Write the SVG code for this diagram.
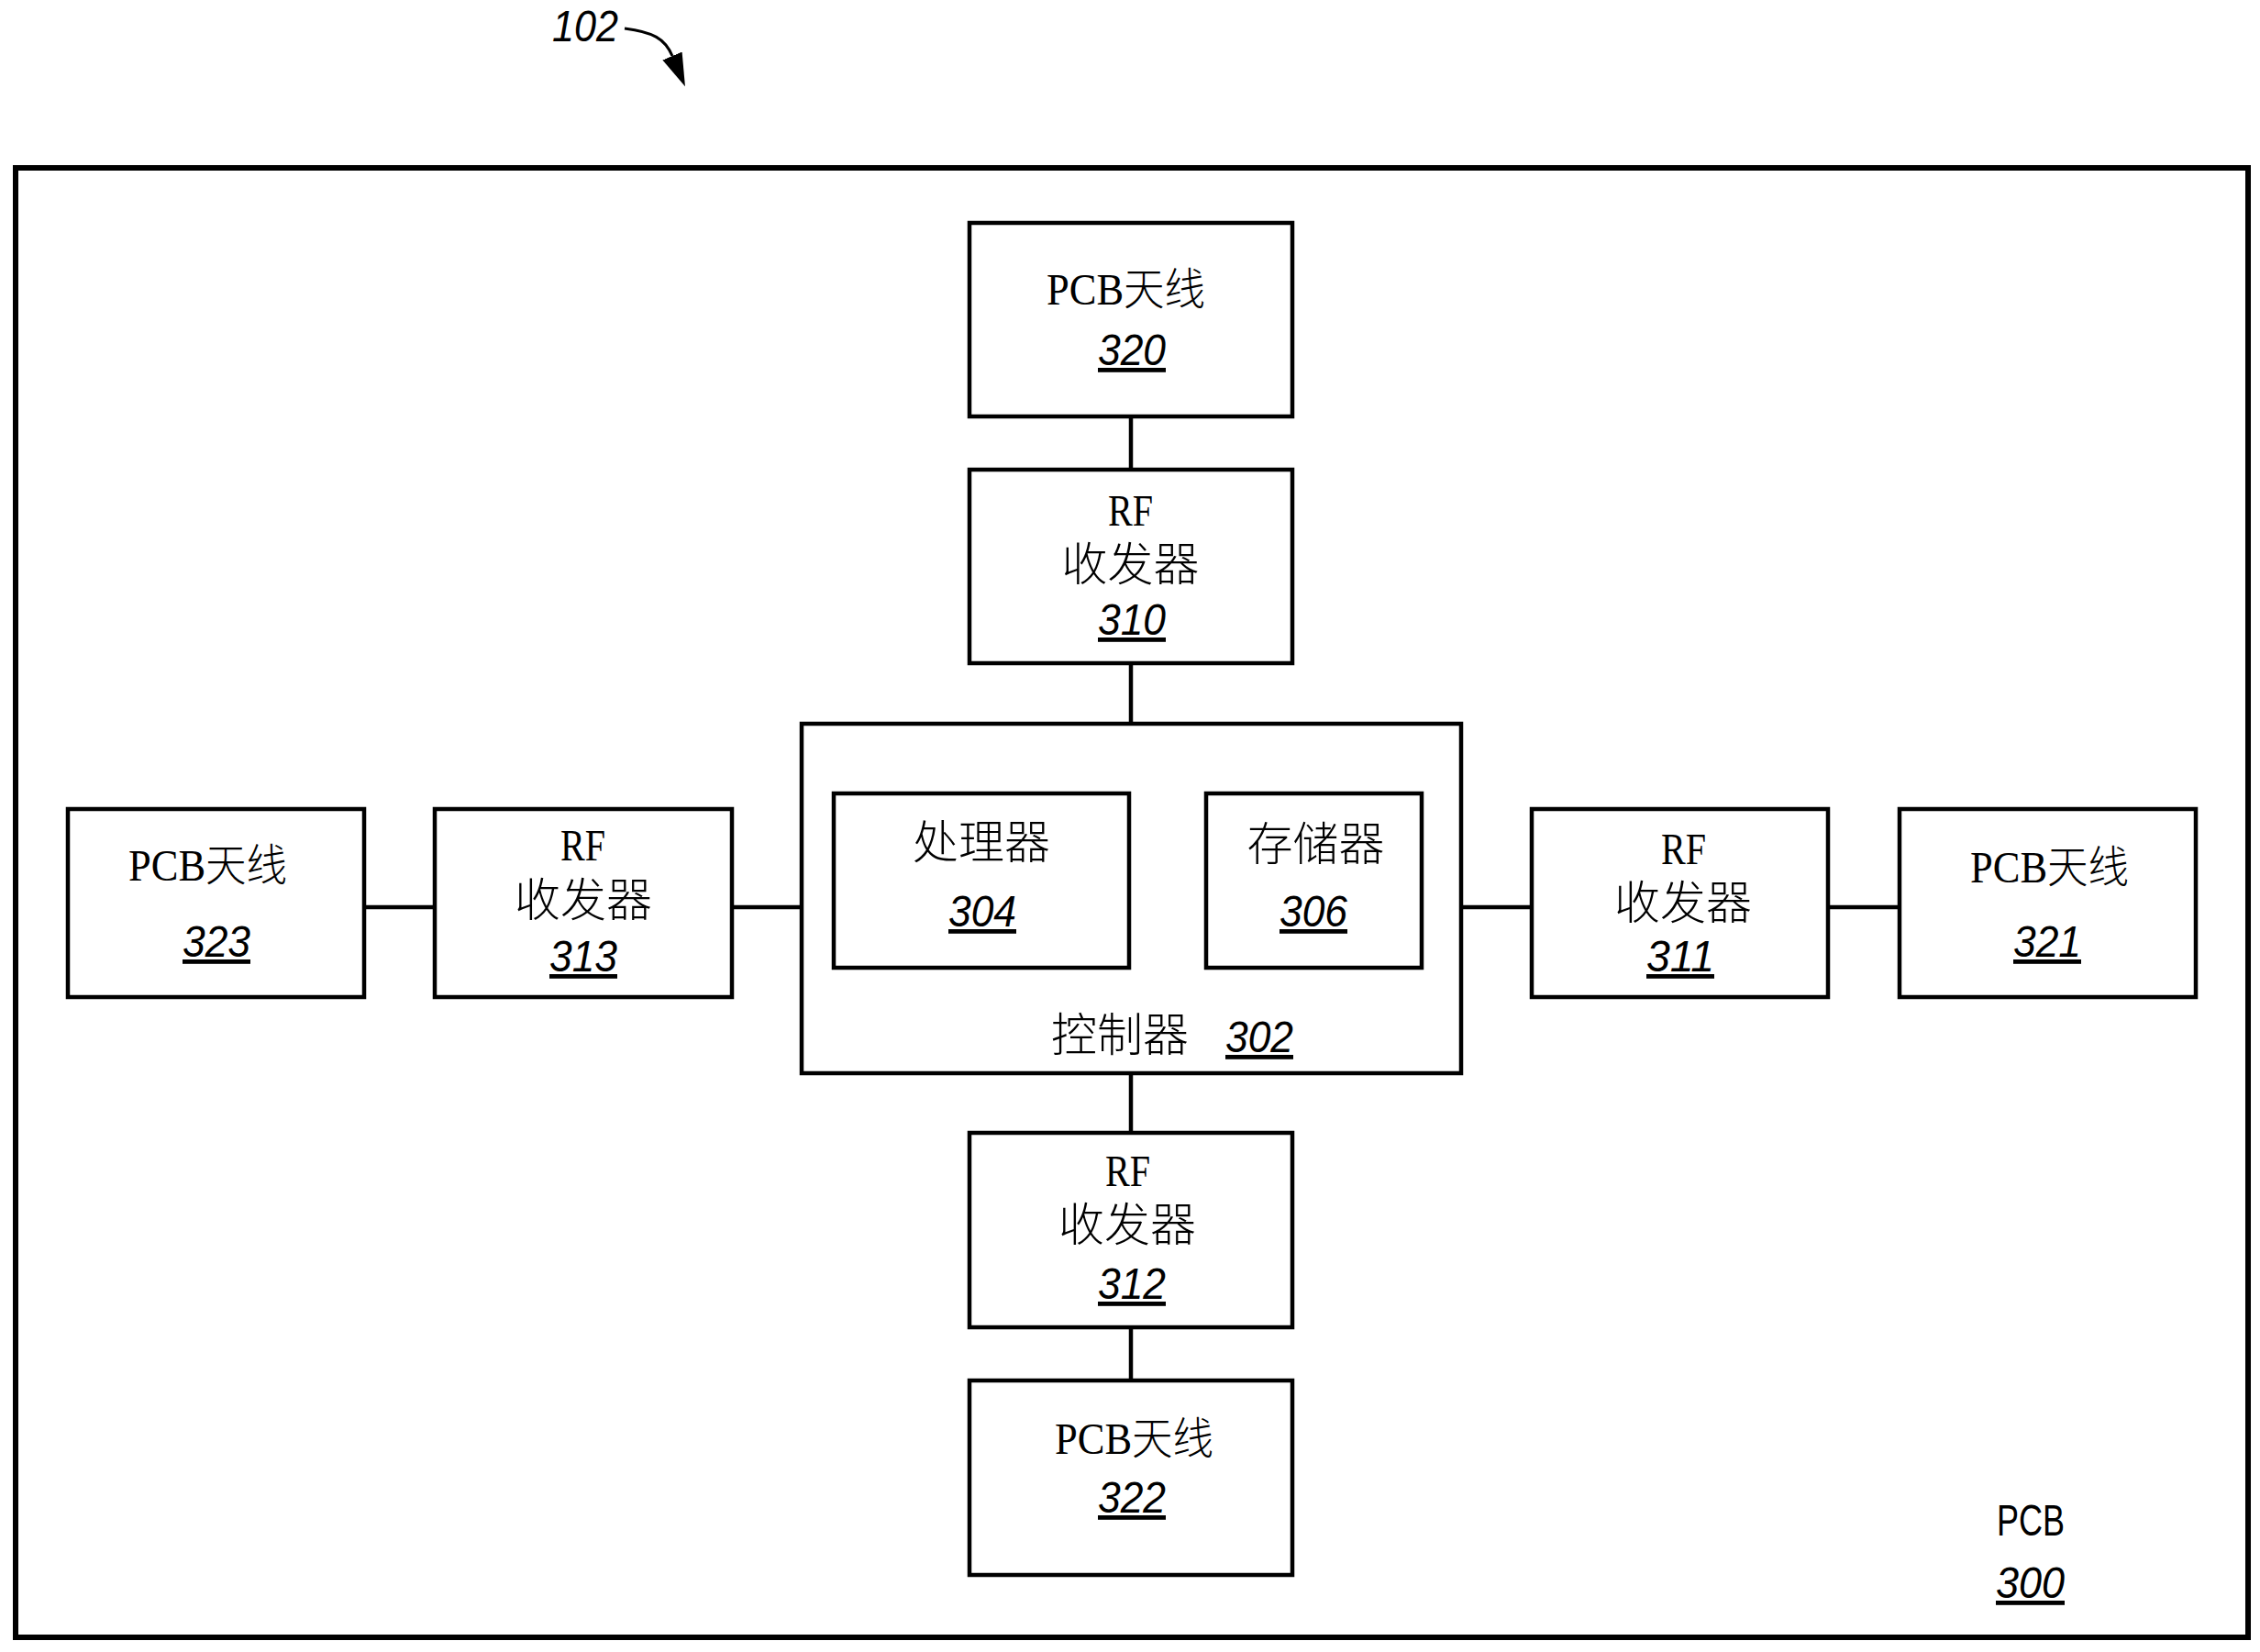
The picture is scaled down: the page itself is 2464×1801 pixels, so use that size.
<svg xmlns="http://www.w3.org/2000/svg" width="2464" height="1801" viewBox="0 0 2464 1801">
<style>
.box{fill:#fff;stroke:#000;stroke-width:4.5}
.outer{fill:#fff;stroke:#000;stroke-width:6}
.wire{fill:none;stroke:#000;stroke-width:4.5}
.lead{fill:none;stroke:#000;stroke-width:3}
.cn{font-family:"Liberation Serif","Noto Sans CJK SC",serif;font-size:48px;font-weight:300;fill:#000}
.zh{font-family:"Noto Sans CJK SC",sans-serif;font-size:50px;font-weight:300;fill:#000;text-anchor:middle}
.num{font-family:"Liberation Sans",Arial,sans-serif;font-size:48px;font-style:italic;fill:#000}
.ul{text-decoration:underline;text-decoration-thickness:4px;text-underline-offset:6px;text-decoration-skip-ink:none}
.lat{font-family:"Liberation Sans",Arial,sans-serif;font-size:48px;fill:#000}
</style>
<defs>
<marker id="head" markerUnits="userSpaceOnUse" markerWidth="38" markerHeight="24" refX="0" refY="11.5" orient="auto">
<path d="M0,0L36,11.5L0,23Z" fill="#000"/>
</marker>
</defs>
<rect width="2464" height="1801" fill="#fff"/>
<g id="pcb-300">
<rect class="outer" x="17" y="183" width="2434" height="1602"/>
<text class="lat" x="2177" y="1674" textLength="74" lengthAdjust="spacingAndGlyphs">PCB</text>
<text class="num ul" x="2176" y="1742" textLength="75" lengthAdjust="spacingAndGlyphs">300</text>
</g>
<g id="ref-102">
<text class="num" x="602" y="45" textLength="72" lengthAdjust="spacingAndGlyphs">102</text>
<path class="lead" d="M681,31C712,35 725,42 733,61" marker-end="url(#head)"/>
</g>
<g id="connectors">
<path class="wire" d="M1233,454V512"/>
<path class="wire" d="M1233,723V789"/>
<path class="wire" d="M1233,1170V1235"/>
<path class="wire" d="M1233,1447V1505"/>
<path class="wire" d="M397,989H474"/>
<path class="wire" d="M798,989H874"/>
<path class="wire" d="M1593,989H1670"/>
<path class="wire" d="M1993,989H2071"/>
<path class="wire" d="M1231,960H1315"/>
</g>
<g id="node-320">
<rect class="box" x="1057" y="243" width="352" height="211"/>
<text class="cn" x="1141" y="332" textLength="173" lengthAdjust="spacingAndGlyphs">PCB天线</text>
<text class="num ul" x="1197" y="398" textLength="74" lengthAdjust="spacingAndGlyphs">320</text>
</g>
<g id="node-310">
<rect class="box" x="1057" y="512" width="352" height="211"/>
<text class="cn" x="1208" y="573" textLength="49" lengthAdjust="spacingAndGlyphs">RF</text>
<text class="zh" x="1232.5" y="633">收发器</text>
<text class="num ul" x="1197" y="692" textLength="74" lengthAdjust="spacingAndGlyphs">310</text>
</g>
<g id="node-302">
<rect class="box" x="874" y="789" width="719" height="381"/>
<text class="zh" x="1221" y="1146">控制器</text>
<text class="num ul" x="1336" y="1147" textLength="74" lengthAdjust="spacingAndGlyphs">302</text>
</g>
<g id="node-304">
<rect class="box" x="909" y="865" width="322" height="190"/>
<text class="zh" x="1070" y="936">处理器</text>
<text class="num ul" x="1034" y="1010" textLength="74" lengthAdjust="spacingAndGlyphs">304</text>
</g>
<g id="node-306">
<rect class="box" x="1315" y="865" width="235" height="190"/>
<text class="zh" x="1434.5" y="938">存储器</text>
<text class="num ul" x="1395" y="1010" textLength="74" lengthAdjust="spacingAndGlyphs">306</text>
</g>
<g id="node-323">
<rect class="box" x="74" y="882" width="323" height="205"/>
<text class="cn" x="140" y="960" textLength="173" lengthAdjust="spacingAndGlyphs">PCB天线</text>
<text class="num ul" x="199" y="1043" textLength="74" lengthAdjust="spacingAndGlyphs">323</text>
</g>
<g id="node-313">
<rect class="box" x="474" y="882" width="324" height="205"/>
<text class="cn" x="611" y="938" textLength="49" lengthAdjust="spacingAndGlyphs">RF</text>
<text class="zh" x="636" y="999">收发器</text>
<text class="num ul" x="599" y="1059" textLength="74" lengthAdjust="spacingAndGlyphs">313</text>
</g>
<g id="node-311">
<rect class="box" x="1670" y="882" width="323" height="205"/>
<text class="cn" x="1811" y="942" textLength="49" lengthAdjust="spacingAndGlyphs">RF</text>
<text class="zh" x="1835" y="1002">收发器</text>
<text class="num ul" x="1795" y="1059" textLength="74" lengthAdjust="spacingAndGlyphs">311</text>
</g>
<g id="node-321">
<rect class="box" x="2071" y="882" width="323" height="205"/>
<text class="cn" x="2148" y="962" textLength="173" lengthAdjust="spacingAndGlyphs">PCB天线</text>
<text class="num ul" x="2195" y="1043" textLength="74" lengthAdjust="spacingAndGlyphs">321</text>
</g>
<g id="node-312">
<rect class="box" x="1057" y="1235" width="352" height="212"/>
<text class="cn" x="1205" y="1293" textLength="49" lengthAdjust="spacingAndGlyphs">RF</text>
<text class="zh" x="1229" y="1353">收发器</text>
<text class="num ul" x="1197" y="1416" textLength="74" lengthAdjust="spacingAndGlyphs">312</text>
</g>
<g id="node-322">
<rect class="box" x="1057" y="1505" width="352" height="212"/>
<text class="cn" x="1150" y="1585" textLength="173" lengthAdjust="spacingAndGlyphs">PCB天线</text>
<text class="num ul" x="1197" y="1649" textLength="74" lengthAdjust="spacingAndGlyphs">322</text>
</g>
</svg>
